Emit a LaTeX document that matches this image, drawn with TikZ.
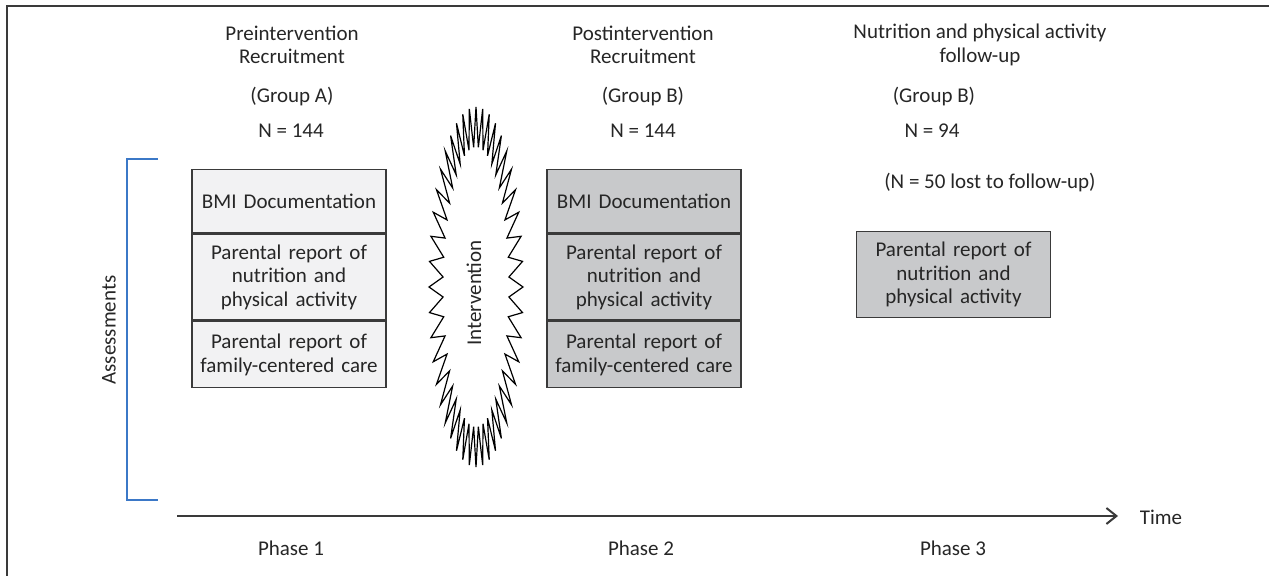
\documentclass[tikz,border=0pt]{standalone}
\usepackage{fontspec}
\setmainfont{Carlito}
\usetikzlibrary{positioning}
\usetikzlibrary{arrows.meta}

\definecolor{boxlight}{HTML}{F2F2F3}
\definecolor{boxdark}{HTML}{C8C9CB}
\definecolor{boxline}{HTML}{3A3A3A}
\definecolor{bracketblue}{HTML}{3B78C7}
\definecolor{txtgray}{HTML}{262626}

\begin{document}
\begin{tikzpicture}[x=0.5pt,y=-0.5pt,
    font=\fontsize{10.5}{11.8}\selectfont, text=txtgray,
    label/.style={align=center, inner sep=0pt},
    rowbox/.style={draw=boxline, line width=0.75pt, text width=97pt,
      inner xsep=0pt, align=center},
    rowlight/.style={rowbox, fill=boxlight},
    rowdark/.style={rowbox, fill=boxdark}]
          \useasboundingbox (0,0) rectangle (1269,576);
          \draw[line width=1pt, boxline] (7,576) -- (7,6) -- (1269,6);

          % headers
          \node[label] (headA) at (292,45) {Preintervention\\Recruitment};
          \node[label] (grpA) at (292,97) {(Group A)};
          \node[label] (nA) at (291,131) {N = 144};
          \node[label] (headB) at (643,45) {Postintervention\\Recruitment};
          \node[label] (grpB) at (643,97) {(Group B)};
          \node[label] (nB) at (643,131) {N = 144};
          \node[label] (headC) at (980,45) {Nutrition and physical activity\\follow-up};
          \node[label] (grpC) at (934,97) {(Group B)};
          \node[label] (nC) at (932,131) {N = 94};
          \node[label] (lostC) at (990,183) {(N = 50 lost to follow-up)};

          % assessment boxes
          \node[rowlight, anchor=north, minimum height=31.5pt] (bmiA) at (289,169) {BMI Documentation};
          \node[rowlight, below=0pt of bmiA, minimum height=43pt] (nutA) {Parental report of\\nutrition and\\physical activity};
          \node[rowlight, below=0pt of nutA, minimum height=33pt] (fccA) {Parental report of\\family-centered care};
          \node[rowdark, anchor=north, minimum height=31.5pt] (bmiB) at (644,169) {BMI Documentation};
          \node[rowdark, below=0pt of bmiB, minimum height=43pt] (nutB) {Parental report of\\nutrition and\\physical activity};
          \node[rowdark, below=0pt of nutB, minimum height=33pt] (fccB) {Parental report of\\family-centered care};
          \node[rowdark, anchor=north, minimum height=43pt] (nutC) at (953.5,231) {Parental report of\\nutrition and\\physical activity};

          % intervention burst
          \draw[line width=0.6pt, fill=white] ({476+47},287)
            \foreach \i in {0,...,43} {
              -- ({476+33*cos((\i+0.5)*360/44)},{287+140*sin((\i+0.5)*360/44)})
              -- ({476+47*cos((\i+1)*360/44)},{287+180*sin((\i+1)*360/44)})
            } -- cycle;
          \node[label, rotate=90] (interv) at (474,293) {Intervention};

          % assessments bracket
          \coordinate (brtop) at (158,159);
          \coordinate (brbot) at (158,500);
          \draw[bracketblue, line width=0.75pt] (brtop) -- (127,159) -- (127,500) -- (brbot);
          \node[label, rotate=90] (assess) at (109,330) {Assessments};

          % time axis
          \coordinate (tstart) at (177,516);
          \coordinate (tend) at (1118,516);
          \draw[line width=1pt, boxline, -{Straight Barb[length=5pt,width=8pt]}] (tstart) -- (tend);
          \node[label] (time) at (1161,517) {Time};

          \node[label] (ph1) at (291,548) {Phase 1};
          \node[label] (ph2) at (641,548) {Phase 2};
          \node[label] (ph3) at (953,548) {Phase 3};
        \end{tikzpicture}
\end{document}
